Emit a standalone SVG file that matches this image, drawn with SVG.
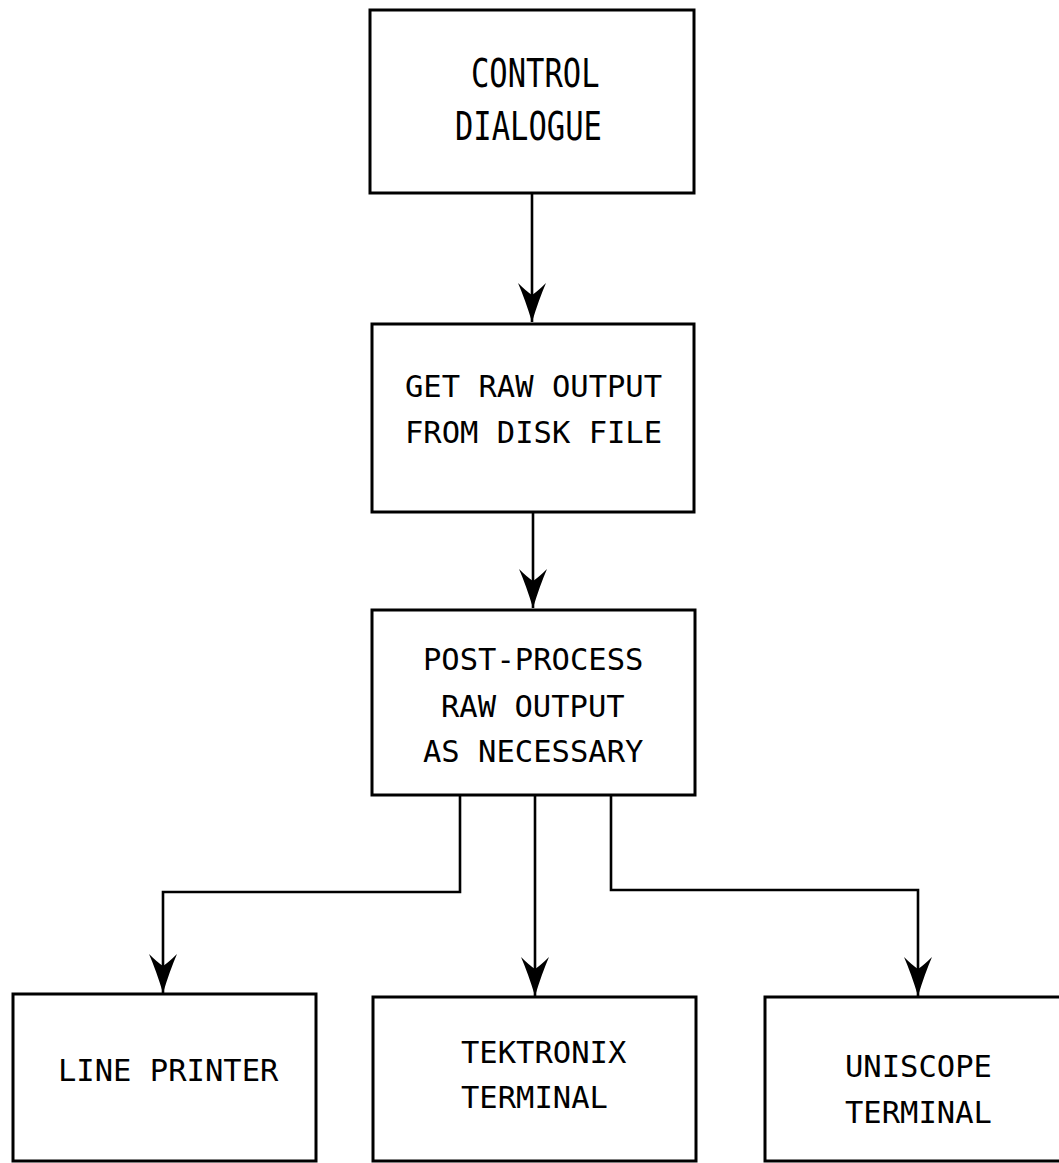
<svg xmlns="http://www.w3.org/2000/svg" width="1059" height="1163" viewBox="0 0 1059 1163">
  <style>
    .box { fill: #ffffff; stroke: #000000; stroke-width: 3; }
    .wire { fill: none; stroke: #000000; stroke-width: 2.6; }
    .lbl { font-family: "DejaVu Sans Mono", "Liberation Mono", monospace; font-size: 30.5px; fill: #000000; }
  </style>
  <defs>
    <!-- barbed arrowhead, tip at the path end, drawn along +x -->
    <marker id="barb" markerUnits="userSpaceOnUse" markerWidth="46" markerHeight="34" viewBox="-44 -17 46 34" refX="0" refY="0" orient="auto">
      <path d="M0,0 Q-23,-7 -39,-14 Q-31,-6 -27,0 Q-31,6 -39,14 Q-23,7 0,0 Z" fill="#000000"/>
    </marker>
  </defs>
  <rect width="1059" height="1163" fill="#ffffff"/>

  <g id="connectors">
    <path class="wire" d="M532,193 V322" marker-end="url(#barb)"/>
    <path class="wire" d="M533,512 V608" marker-end="url(#barb)"/>
    <path class="wire" d="M460,795 V892 H163 V993" marker-end="url(#barb)"/>
    <path class="wire" d="M535,795 V996" marker-end="url(#barb)"/>
    <path class="wire" d="M611,795 V890 H918 V996" marker-end="url(#barb)"/>
  </g>

  <g id="control-dialogue">
    <rect class="box" x="370" y="10" width="324" height="183"/>
    <text class="lbl" transform="translate(471,87) scale(1,1.28)">CONTROL</text>
    <text class="lbl" transform="translate(455,140) scale(1,1.28)">DIALOGUE</text>
  </g>

  <g id="get-raw-output">
    <rect class="box" x="372" y="324" width="322" height="188"/>
    <text class="lbl" x="405" y="397">GET RAW OUTPUT</text>
    <text class="lbl" x="405" y="443">FROM DISK FILE</text>
  </g>

  <g id="post-process">
    <rect class="box" x="372" y="610" width="323" height="185"/>
    <text class="lbl" x="423" y="670">POST-PROCESS</text>
    <text class="lbl" x="441" y="717">RAW OUTPUT</text>
    <text class="lbl" x="423" y="762">AS NECESSARY</text>
  </g>

  <g id="line-printer">
    <rect class="box" x="13" y="994" width="303" height="167"/>
    <text class="lbl" x="58" y="1081">LINE PRINTER</text>
  </g>

  <g id="tektronix-terminal">
    <rect class="box" x="373" y="997" width="323" height="164"/>
    <text class="lbl" x="461" y="1063">TEKTRONIX</text>
    <text class="lbl" x="461" y="1108">TERMINAL</text>
  </g>

  <g id="uniscope-terminal">
    <rect class="box" x="765" y="997" width="310" height="164"/>
    <text class="lbl" x="845" y="1077">UNISCOPE</text>
    <text class="lbl" x="845" y="1123">TERMINAL</text>
  </g>
</svg>
